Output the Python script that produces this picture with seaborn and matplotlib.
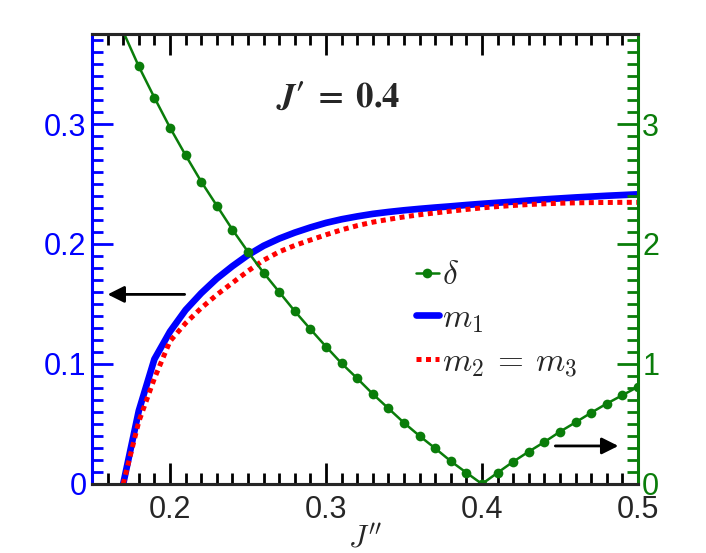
import numpy as np
import pandas as pd
import matplotlib
matplotlib.use("Agg")
import matplotlib.pyplot as plt
import seaborn as sns
from matplotlib.ticker import MultipleLocator, FuncFormatter

# J'' grid and the three curves
j2 = [0.17, 0.18, 0.19, 0.20, 0.21, 0.22, 0.23, 0.24, 0.25, 0.26, 0.27,
      0.28, 0.29, 0.30, 0.31, 0.32, 0.33, 0.34, 0.35, 0.36, 0.37, 0.38,
      0.39, 0.40, 0.41, 0.42, 0.43, 0.44, 0.45, 0.46, 0.47, 0.48, 0.49, 0.50]
delta = [3.77, 3.48, 3.22, 2.97, 2.74, 2.52, 2.32, 2.12, 1.935, 1.76, 1.60,
         1.44, 1.29, 1.145, 1.005, 0.88, 0.75, 0.63, 0.51, 0.40, 0.297, 0.19,
         0.094, 0.0, 0.094, 0.186, 0.27, 0.35, 0.436, 0.514, 0.594, 0.67, 0.74, 0.81]
m1 = [0.0, 0.061, 0.104, 0.127, 0.145, 0.159, 0.1712, 0.1815, 0.1908, 0.1985, 0.2045,
      0.2095, 0.2138, 0.2176, 0.2206, 0.223, 0.2251, 0.2267, 0.2281, 0.2293, 0.2304,
      0.2314, 0.2325, 0.2335, 0.2344, 0.2353, 0.2363, 0.2372, 0.238, 0.2388, 0.2395,
      0.2402, 0.2408, 0.2414]
m23 = [0.0, 0.052, 0.088, 0.119, 0.134, 0.1466, 0.1577, 0.1676, 0.1775, 0.1865, 0.1935,
       0.1988, 0.2033, 0.2077, 0.2118, 0.2153, 0.2182, 0.2205, 0.2226, 0.2244, 0.2259,
       0.2274, 0.2288, 0.2301, 0.2312, 0.2321, 0.2329, 0.2335, 0.234, 0.2343, 0.2345,
       0.2346, 0.2347, 0.2347]

df = pd.DataFrame({"J2": j2, "delta": delta, "m1": m1, "m23": m23})

sns.set_style("ticks")
plt.rcParams["font.family"] = ["Liberation Sans", "DejaVu Sans"]
plt.rcParams["mathtext.fontset"] = "cm"

BLUE = "#0000ff"
RED = "#ff0000"
GREEN = "#0a7d0a"

fig = plt.figure(figsize=(7.06, 5.53), dpi=100)
ax = fig.add_axes([0.1303, 0.1248, 0.7734, 0.8137])
ax2 = ax.twinx()

# magnetizations on left axis
sns.lineplot(data=df, x="J2", y="m1", ax=ax, color=BLUE, lw=4.8,
             label=r"$m_1$", sort=False)
sns.lineplot(data=df, x="J2", y="m23", ax=ax, color=RED, lw=3.6,
             ls=(0, (1.0, 0.9)), dash_capstyle="butt",
             label=r"$m_2\:=\:m_3$", sort=False)

# delta on right axis
sns.lineplot(data=df, x="J2", y="delta", ax=ax2, color=GREEN, lw=1.8,
             marker="o", markersize=7, markeredgewidth=0,
             markevery=list(range(1, len(j2))), label=r"$\delta$", sort=False)

ax.set_xlim(0.15, 0.5)
ax.set_ylim(0, 0.375)
ax2.set_ylim(0, 3.75)

fmt = FuncFormatter(lambda v, p: f"{v:g}")
ax.xaxis.set_major_locator(MultipleLocator(0.1))
ax.xaxis.set_minor_locator(MultipleLocator(0.01))
ax.yaxis.set_major_locator(MultipleLocator(0.1))
ax.yaxis.set_minor_locator(MultipleLocator(0.01))
ax2.yaxis.set_major_locator(MultipleLocator(1))
ax2.yaxis.set_minor_locator(MultipleLocator(0.1))
ax.xaxis.set_major_formatter(fmt)
ax.yaxis.set_major_formatter(fmt)
ax2.yaxis.set_major_formatter(fmt)

# spines
for a in (ax, ax2):
    for s in a.spines.values():
        s.set_linewidth(2.2)
ax.spines["right"].set_visible(False)
ax2.spines["left"].set_visible(False)
ax.spines["left"].set_color(BLUE)
ax2.spines["right"].set_color(GREEN)

# ticks
ax.tick_params(axis="x", which="both", direction="in", top=True, bottom=True,
               width=2, color="black", labelsize=22, pad=8)
ax.tick_params(axis="y", which="both", direction="in", left=True, right=False,
               width=2, colors=BLUE, labelsize=22, pad=4)
ax2.tick_params(axis="y", which="both", direction="in", right=True, left=False,
                width=2, colors=GREEN, labelsize=22, pad=3)
for a in (ax, ax2):
    a.tick_params(which="major", length=15)
    a.tick_params(which="minor", length=8)

ax.set_xlabel(r"$J''$", fontsize=22, labelpad=-1)
ax.set_ylabel("")
ax2.set_ylabel("")

ax.text(0.308, 0.3225, r"$\mathbfit{J}\mathbf{\prime}\;\mathbf{=}\;\mathbf{0.4}$",
        ha="center", va="center", fontsize=25, math_fontfamily="stix")

# arrows pointing to the axis each curve belongs to
ax.annotate("", xy=(0.160, 0.158), xytext=(0.2094, 0.158),
            arrowprops=dict(arrowstyle="-|>", color="black", lw=2,
                            mutation_scale=25, shrinkA=0, shrinkB=0))
ax2.annotate("", xy=(0.4874, 0.317), xytext=(0.447, 0.317),
             arrowprops=dict(arrowstyle="-|>", color="black", lw=2,
                             mutation_scale=25, shrinkA=0, shrinkB=0))

h1, l1 = ax.get_legend_handles_labels()
h2, l2 = ax2.get_legend_handles_labels()
if ax.get_legend() is not None:
    ax.get_legend().remove()
ax2.legend(h2 + h1, l2 + l1, loc="upper left", bbox_to_anchor=(0.593, 0.497),
           frameon=False, fontsize=24, handlelength=0.7, handletextpad=0.08,
           labelspacing=0.35, borderaxespad=0, borderpad=0)

fig.savefig("out.png", dpi=100)
